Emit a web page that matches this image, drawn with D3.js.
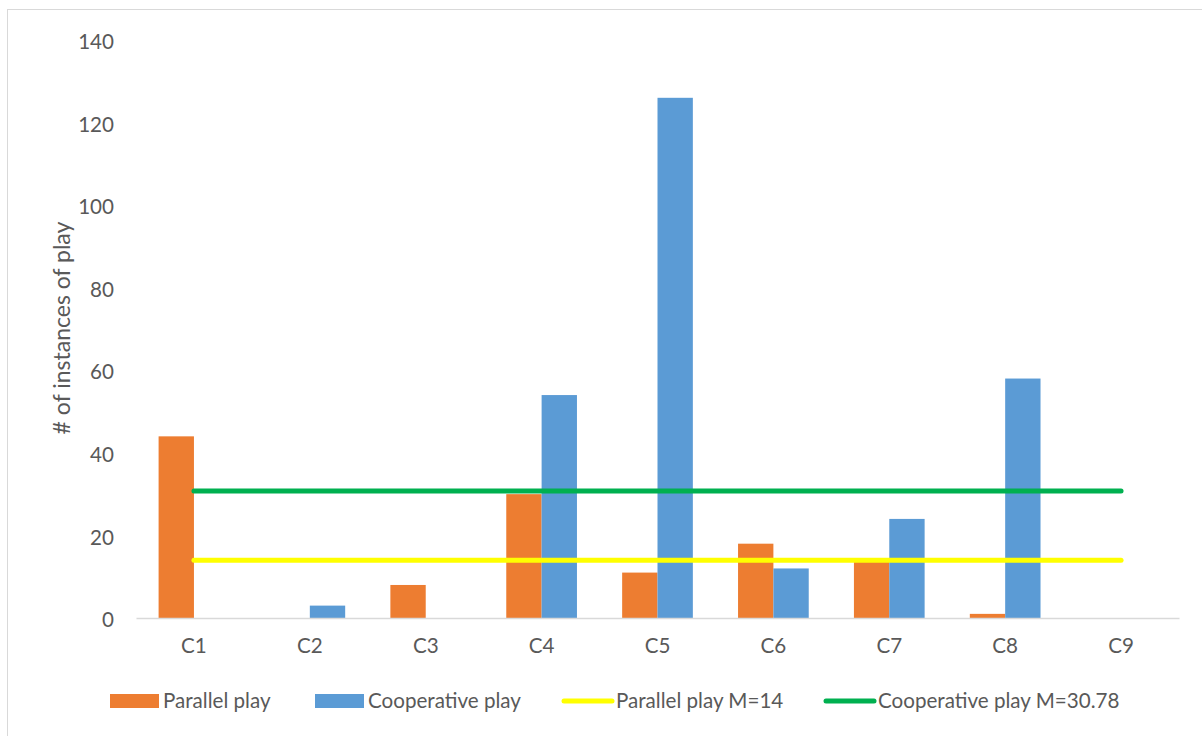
<!DOCTYPE html>
<html>
<head>
<meta charset="utf-8">
<script src="https://cdn.jsdelivr.net/npm/d3@7"></script>
<style>
  html, body { margin: 0; padding: 0; background: #fff; }
  svg { display: block; }
  text { font-family: Lato, "Open Sans", sans-serif; fill: #595959; }
</style>
</head>
<body>
<svg id="chart" width="1202" height="736"></svg>
<script>
// Children and their counts of observed play
const categories = ["C1", "C2", "C3", "C4", "C5", "C6", "C7", "C8", "C9"];
const parallelPlay = [44, 0, 8, 30, 11, 18, 14, 1, 0];
const cooperativePlay = [0, 3, 0, 54, 126, 12, 24, 58, 0];
const parallelMean = 14;
const cooperativeMean = 30.78;
const yTicks = [0, 20, 40, 60, 80, 100, 120, 140];
const seriesNames = ["Parallel play", "Cooperative play", "Parallel play M=14", "Cooperative play M=30.78"];

const colors = {
  parallel: "#ED7D31",
  cooperative: "#5B9BD5",
  parallelMean: "#FFFF00",
  cooperativeMean: "#00B050"
};

const svg = d3.select("#chart");
const W = 1202, H = 736;
const plot = { left: 136, right: 1179, top: 40, bottom: 618 };
const FONT = 20.6;

// outer frame
svg.append("rect")
  .attr("x", 7.5).attr("y", 9.5)
  .attr("width", W).attr("height", H)
  .attr("fill", "none").attr("stroke", "#d9d9d9").attr("stroke-width", 1);

const x = d3.scaleBand().domain(categories).range([plot.left, plot.right]).paddingInner(0).paddingOuter(0);
const groupWidth = x.bandwidth() * 0.61;
const xs = d3.scaleBand().domain(["parallel", "cooperative"])
  .range([x.bandwidth() / 2 - groupWidth / 2, x.bandwidth() / 2 + groupWidth / 2]).padding(0);
const y = d3.scaleLinear().domain([0, 140]).range([plot.bottom, plot.top]);

// y axis labels only
const yAxis = svg.append("g")
  .attr("transform", `translate(${plot.left},0)`)
  .call(d3.axisLeft(y).tickValues(yTicks).tickSize(0).tickPadding(22));
yAxis.select(".domain").remove();
yAxis.selectAll("text").style("font-size", FONT + "px").attr("fill", "#595959")
  .attr("dy", "0.42em")
  .style("font-family", "Lato, 'Open Sans', sans-serif");

// y axis title
svg.append("text")
  .attr("transform", `translate(70,328) rotate(-90)`)
  .attr("text-anchor", "middle")
  .style("font-size", "23px")
  .text("# of instances of play");

// bars
const rows = categories.map((c, i) => ({ c, parallel: parallelPlay[i], cooperative: cooperativePlay[i] }));
const groups = svg.append("g").selectAll("g").data(rows).join("g")
  .attr("transform", d => `translate(${x(d.c)},0)`);
groups.selectAll("rect")
  .data(d => ["parallel", "cooperative"].map(k => ({ k, v: d[k] })))
  .join("rect")
  .attr("x", d => xs(d.k))
  .attr("width", xs.bandwidth())
  .attr("y", d => y(d.v))
  .attr("height", d => y(0) - y(d.v))
  .attr("fill", d => colors[d.k]);

// x axis
const xAxis = svg.append("g")
  .attr("transform", `translate(0,${plot.bottom})`)
  .call(d3.axisBottom(x).tickSize(0).tickPadding(20));
xAxis.select(".domain").attr("stroke", "#d9d9d9").attr("stroke-width", 1.5);
xAxis.selectAll("text").style("font-size", FONT + "px").attr("fill", "#595959")
  .style("font-family", "Lato, 'Open Sans', sans-serif");

// mean lines
const cx = c => x(c) + x.bandwidth() / 2;
const meanLine = v => d3.line().x(c => cx(c)).y(() => y(v));
svg.append("path").attr("d", meanLine(parallelMean)(categories))
  .attr("fill", "none").attr("stroke", colors.parallelMean)
  .attr("stroke-width", 5).attr("stroke-linecap", "round");
svg.append("path").attr("d", meanLine(cooperativeMean)(categories))
  .attr("fill", "none").attr("stroke", colors.cooperativeMean)
  .attr("stroke-width", 5).attr("stroke-linecap", "round");

// legend
const legendY = 701;
const legendItems = [
  { name: seriesNames[0], type: "rect", color: colors.parallel, x: 110 },
  { name: seriesNames[1], type: "rect", color: colors.cooperative, x: 315 },
  { name: seriesNames[2], type: "line", color: colors.parallelMean, x: 562 },
  { name: seriesNames[3], type: "line", color: colors.cooperativeMean, x: 824 }
];
const leg = svg.append("g").selectAll("g").data(legendItems).join("g")
  .attr("transform", d => `translate(${d.x},${legendY})`);
leg.filter(d => d.type === "rect").append("rect")
  .attr("x", 0).attr("y", -7).attr("width", 49).attr("height", 14)
  .attr("fill", d => d.color);
leg.filter(d => d.type === "line").append("line")
  .attr("x1", 2).attr("x2", 50).attr("y1", 0).attr("y2", 0)
  .attr("stroke", d => d.color).attr("stroke-width", 5).attr("stroke-linecap", "round");
leg.append("text")
  .attr("x", d => d.type === "rect" ? 53 : 54)
  .attr("dy", "0.35em")
  .style("font-size", FONT + "px")
  .text(d => d.name);
</script>
</body>
</html>
